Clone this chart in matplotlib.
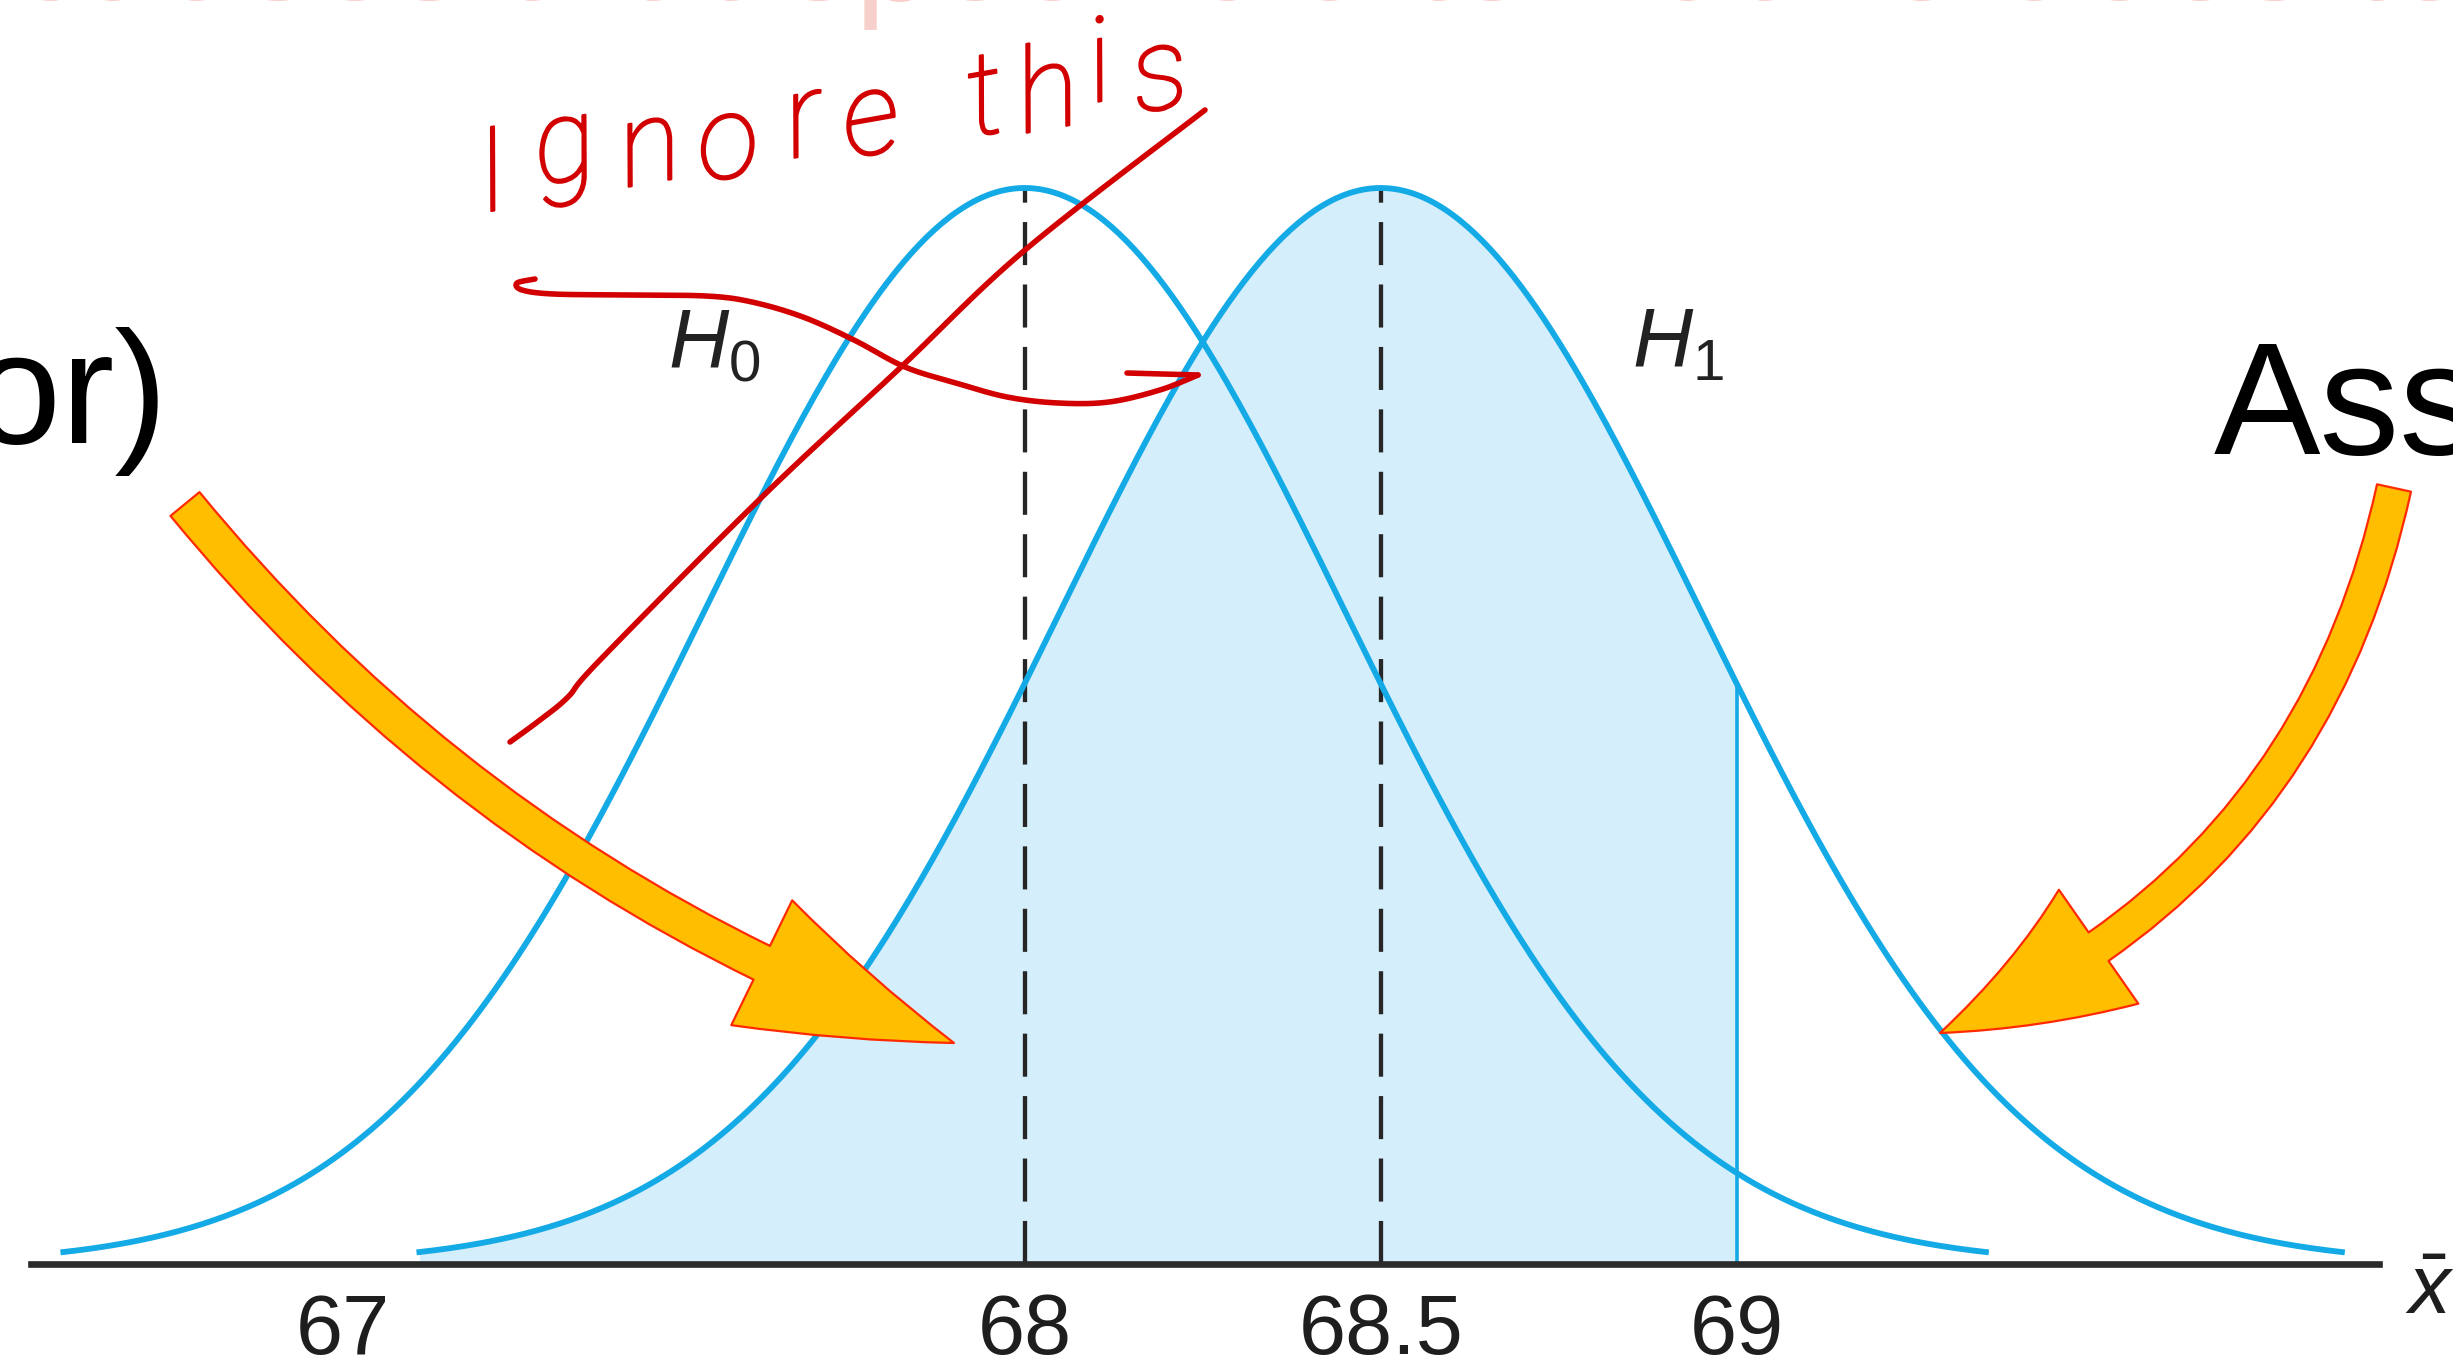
import numpy as np
import matplotlib.pyplot as plt
import matplotlib.patheffects as pe
from matplotlib.patches import FancyArrowPatch
from matplotlib.transforms import ScaledTranslation

# sampling distributions of x-bar under H0 and H1
h0_mean = 68.0
h1_mean = 68.5
sigma = 0.45
spread = 3          # curves are drawn out to +-3 sigma
cutoff = 69.0       # right end of the shaded region under H1

tick_vals = [67, 68, 68.5, 69]
tick_text = ['67', '68', '68.5', '69']

# annotation strokes, in pixels of the 2453x1369 picture (y down)
red_slash = [(510, 742), (540, 720), (568, 697), (600, 660), (762, 497),
             (900, 368), (1025, 250), (1205, 110)]
red_squiggle = [(535, 279), (517, 283), (522, 290), (553, 294), (624, 295),
                (706, 296), (752, 302), (803, 317), (854, 340), (905, 367),
                (956, 383), (1007, 397), (1058, 403), (1109, 402),
                (1160, 390), (1198, 375)]
red_tick = [(1127, 373), (1198, 375)]
hand_chars = ['I', 'g', 'n', 'o', 'r', 'e', 't', 'h', 'i', 's']
hand_pos = [(493, 212), (565, 185), (650, 187), (728, 182), (804, 158),
            (871, 158), (985, 136), (1048, 133), (1100, 102), (1160, 113)]

plt.rcParams['font.family'] = ['Liberation Sans', 'DejaVu Sans']
plt.rcParams['mathtext.fontset'] = 'custom'
plt.rcParams['mathtext.it'] = 'Liberation Sans:italic'
plt.rcParams['mathtext.rm'] = 'Liberation Sans'

W, H = 2453, 1369
fig = plt.figure(figsize=(W / 100, H / 100), dpi=100)
ax = fig.add_axes([0, 0, 1, 1])


def pdf(x, m):
    return np.exp(-0.5 * ((x - m) / sigma) ** 2) / (sigma * np.sqrt(2 * np.pi))


blue = '#14aae6'
x0 = np.linspace(h0_mean - spread * sigma, h0_mean + spread * sigma, 500)
x1 = np.linspace(h1_mean - spread * sigma, h1_mean + spread * sigma, 500)
xs = np.linspace(h1_mean - spread * sigma, cutoff, 400)

ax.fill_between(xs, 0, pdf(xs, h1_mean), color='#d5eefb', lw=0, zorder=1)
for m in (h0_mean, h1_mean):
    ax.plot([m, m], [0, pdf(m, m)], color='#262626', lw=3.1,
            dashes=(10, 4.5), zorder=2)
ax.vlines(cutoff, 0, pdf(cutoff, h1_mean), color=blue, lw=2.6, zorder=3)
ax.plot(x0, pdf(x0, h0_mean), color=blue, lw=4.2, zorder=4)
ax.plot(x1, pdf(x1, h1_mean), color=blue, lw=4.2, zorder=4)

# put 0 at the axis line (y=1264 px) and the peaks at y=188 px
peak = pdf(h0_mean, h0_mean)
k = peak / (1264 - 188)
ax.set_xlim(66.561, 70.006)
ax.set_ylim(-(H - 1264) * k, 1264 * k)

for s in ['top', 'right', 'left']:
    ax.spines[s].set_visible(False)
ax.spines['bottom'].set_position(('data', 0))
ax.spines['bottom'].set_bounds(66.605, 69.902)
ax.spines['bottom'].set_linewidth(4.8)
ax.spines['bottom'].set_color('#2b2b2b')
ax.spines['bottom'].set_zorder(5)
ax.set_xticks(tick_vals, tick_text)
ax.set_yticks([])
ax.tick_params(axis='x', length=0, pad=20, labelsize=61, labelcolor='#1e1e1e')
# the 67 label sits a little to the right of its tick in the original figure
lab67 = ax.get_xticklabels()[0]
lab67.set_transform(lab67.get_transform() + ScaledTranslation(0.3, 0, fig.dpi_scale_trans))
ax.patch.set_alpha(0)

# overlay in picture pixels for the slide annotations
ov = fig.add_axes([0, 0, 1, 1], facecolor='none')
ov.set_xlim(0, W)
ov.set_ylim(H, 0)
ov.axis('off')


def smooth(pts, n=16):
    p = np.asarray(pts, float)
    p = np.vstack([p[0], p, p[-1]])
    t = np.linspace(0, 1, n, endpoint=False)[:, None]
    out = []
    for i in range(1, len(p) - 2):
        p0, p1, p2, p3 = p[i - 1], p[i], p[i + 1], p[i + 2]
        out.append(0.5 * (2 * p1 + (-p0 + p2) * t
                          + (2 * p0 - 5 * p1 + 4 * p2 - p3) * t ** 2
                          + (-p0 + 3 * p1 - 3 * p2 + p3) * t ** 3))
    out.append(p[-2][None])
    return np.vstack(out)


ov.text(2405, 1314, r'$\bar{x}$', fontsize=60, color='#1e1e1e', va='baseline')
ov.text(668, 368, r'$H_0$', fontsize=60, color='#222222', va='baseline')
ov.text(1632, 368, r'$H_1$', fontsize=60, color='#222222', va='baseline')

# cut-off slide text
ov.text(168, 443, 'error)', fontsize=115, ha='right', va='baseline', color='black')
ov.text(2214, 454, 'Assume', fontsize=115, ha='left', va='baseline', color='black')
ov.text(12, 0, 'causes that specific alternative does to', fontsize=103,
        ha='left', va='baseline', color='#f8d0cb')

# yellow arrows
arrow_kw = dict(arrowstyle='simple,head_length=150,head_width=100,tail_width=27',
                mutation_scale=1, fc='#ffbe00', ec='#ff2a00', lw=1.6,
                shrinkA=0, shrinkB=0, zorder=6)
ov.add_patch(FancyArrowPatch((185, 504), (954, 1043),
                             connectionstyle='arc3,rad=0.14', **arrow_kw))
arrow_kw['arrowstyle'] = 'simple,head_length=130,head_width=100,tail_width=25'
ov.add_patch(FancyArrowPatch((2394, 488), (1940, 1033),
                             connectionstyle='arc3,rad=-0.26', **arrow_kw))

# red handwriting
red = '#d20000'
for pts in (red_slash, red_squiggle, red_tick):
    c = smooth(pts)
    ov.plot(c[:, 0], c[:, 1], color=red, lw=4, solid_capstyle='round', zorder=7)
for ch, (hx, hy) in zip(hand_chars, hand_pos):
    ov.text(hx, hy, ch, fontsize=84, color=red, ha='center', va='baseline',
            rotation=10, family=['Roboto', 'DejaVu Sans'], fontweight='light',
            fontstyle='italic', zorder=7,
            path_effects=[pe.withStroke(linewidth=1.5, foreground=red)])

fig.savefig('out.png', dpi=100)
